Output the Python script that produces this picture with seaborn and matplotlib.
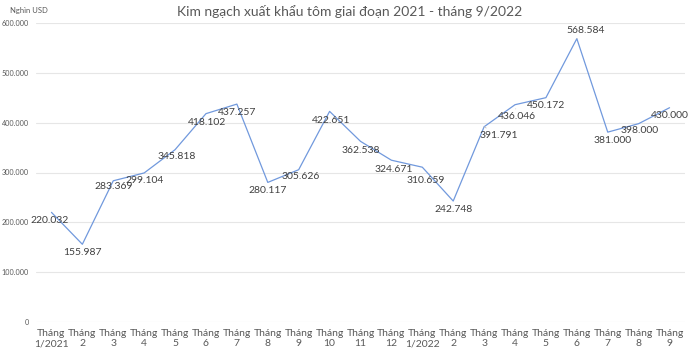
import matplotlib
matplotlib.use("Agg")
import matplotlib.pyplot as plt
import seaborn as sns
import pandas as pd

months = ["Tháng\n1/2021", "Tháng\n2", "Tháng\n3", "Tháng\n4", "Tháng\n5", "Tháng\n6",
          "Tháng\n7", "Tháng\n8", "Tháng\n9", "Tháng\n10", "Tháng\n11", "Tháng\n12",
          "Tháng\n1/2022", "Tháng\n2", "Tháng\n3", "Tháng\n4", "Tháng\n5", "Tháng\n6",
          "Tháng\n7", "Tháng\n8", "Tháng\n9"]
values = [220032, 155987, 283369, 299104, 345818, 418102, 437257, 280117, 305626,
          422651, 362538, 324671, 310659, 242748, 391791, 436046, 450172, 568584,
          381000, 398000, 430000]
value_labels = ["220.032", "155.987", "283.369", "299.104", "345.818", "418.102", "437.257",
                "280.117", "305.626", "422.651", "362.538", "324.671", "310.659", "242.748",
                "391.791", "436.046", "450.172", "568.584", "381.000", "398.000", "430.000"]
y_ticks = [0, 100000, 200000, 300000, 400000, 500000, 600000]
y_tick_labels = ["0", "100.000", "200.000", "300.000", "400.000", "500.000", "600.000"]

# label offsets in pixels (dx, dy downwards)
label_offsets = [(-2, 8), (0, 8), (0, 6), (0, 8), (2, 7), (1, 9), (0, 8), (0, 8), (2, 7),
                 (2, 9), (0, 9), (2, 9), (3, 13), (0, 8), (15, 9), (2, 12), (0, 8), (9, -8),
                 (5, 8), (1, 7), (0, 8)]
leaders = {14, 15, 17}

sns.set_theme(style="white")
plt.rcParams["font.family"] = ["Lato", "DejaVu Sans"]

df = pd.DataFrame({"idx": range(len(values)), "value": values})

fig = plt.figure(figsize=(7.0, 3.54), dpi=100)
ax = fig.add_axes([36 / 700, 1 - 322 / 354, (685 - 36) / 700, (322 - 23) / 354])

sns.lineplot(data=df, x="idx", y="value", ax=ax, color="#7199DD", linewidth=0.9)

ax.set_xlim(-0.5, len(values) - 0.5)
ax.set_ylim(0, 600000)
ax.set_yticks(y_ticks)
ax.set_yticklabels(y_tick_labels)
ax.set_xticks(range(len(values)))
ax.set_xticklabels(months)
ax.tick_params(axis="y", labelsize=5.2, colors="#595959", length=0, pad=5)
ax.tick_params(axis="x", labelsize=7.5, colors="#595959", length=0, pad=5)
ax.yaxis.grid(True, color="#E6E6E6", linewidth=0.8)
ax.xaxis.grid(False)
ax.set_xlabel("")
ax.set_ylabel("")
for s in ax.spines.values():
    s.set_visible(False)

for i, (v, t, (dx, dy)) in enumerate(zip(values, value_labels, label_offsets)):
    kw = {}
    if i in leaders:
        kw["arrowprops"] = dict(arrowstyle="-", color="#BFBFBF", lw=0.6, shrinkA=0, shrinkB=3)
    ax.annotate(t, xy=(i, v), xytext=(dx * 0.72, -dy * 0.72), textcoords="offset points",
                ha="center", va="center", fontsize=7.5, color="#404040", **kw)

fig.text(350 / 700, 1 - 12 / 354, "Kim ngạch xuất khẩu tôm giai đoạn 2021 - tháng 9/2022",
         ha="center", va="center", fontsize=10, color="#595959")
fig.text(10 / 700, 1 - 10 / 354, "Nghìn USD", ha="left", va="center", fontsize=5.5,
         color="#595959")

fig.savefig("out.png", dpi=100, facecolor="white")
